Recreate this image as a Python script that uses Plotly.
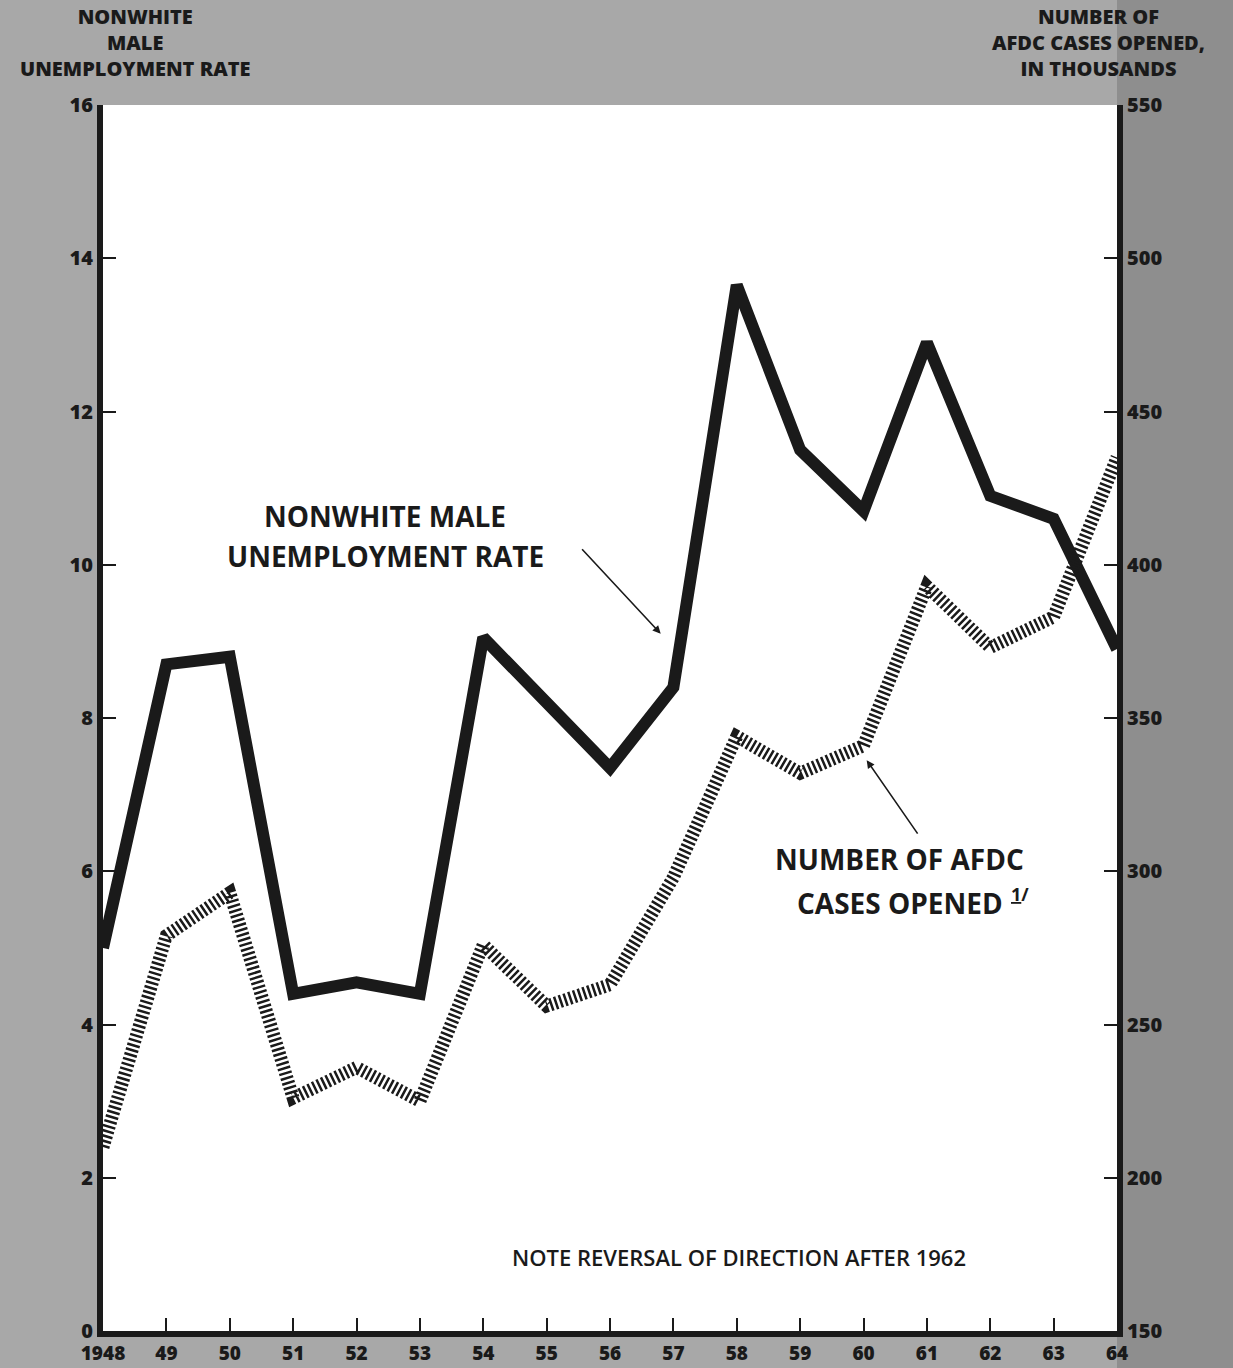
import plotly.graph_objects as go

years = list(range(1948, 1965))
year_labels = ["1948", "49", "50", "51", "52", "53", "54", "55", "56", "57",
               "58", "59", "60", "61", "62", "63", "64"]
unemployment_rate = [5.0, 8.7, 8.8, 4.4, 4.55, 4.4, 9.05, 8.2, 7.35, 8.4,
                     13.65, 11.5, 10.7, 12.9, 10.9, 10.6, 8.9]
afdc_cases = [210, 279, 293, 226, 236, 225, 276, 256, 263, 298,
              344, 332, 341, 393, 373, 383, 435]
left_ticks = [0, 2, 4, 6, 8, 10, 12, 14, 16]
right_ticks = [150, 200, 250, 300, 350, 400, 450, 500, 550]

FONT = "Open Sans"
INK = "#1a1a1a"

fig = go.Figure()
fig.add_trace(go.Scatter(
    x=years, y=afdc_cases, yaxis="y2", mode="lines",
    line=dict(color=INK, width=13, dash="2.5px,2.5px"),
    showlegend=False, hoverinfo="skip"))
fig.add_trace(go.Scatter(
    x=years, y=unemployment_rate, mode="lines",
    line=dict(color=INK, width=12),
    showlegend=False, hoverinfo="skip"))

tickfont = dict(size=20, family=FONT, weight=800, color=INK)
common = dict(showgrid=False, zeroline=False, showline=True, linecolor=INK,
              linewidth=6, ticks="inside", ticklen=13, tickwidth=2,
              tickcolor=INK, automargin=False)
fig.update_layout(
    width=1233, height=1368,
    margin=dict(l=103, r=116, t=105, b=37),
    paper_bgcolor="#a8a8a8",
    plot_bgcolor="white",
    font=dict(family=FONT, color=INK),
    xaxis=dict(range=[1948, 1964], tickvals=years, ticktext=year_labels,
               tickfont=dict(size=19, family=FONT, weight=800, color=INK),
               **common),
    yaxis=dict(range=[0, 16], tickvals=left_ticks, tickfont=tickfont, **common),
    yaxis2=dict(range=[150, 550], tickvals=right_ticks, overlaying="y",
                side="right", tickfont=tickfont, **common),
)

# darker gray on the right margin
fig.add_shape(type="rect", xref="paper", yref="paper", x0=1.0, x1=1.12,
              y0=-0.04, y1=1.1, fillcolor="#8e8e8e", line_width=0, layer="below")

title_font = dict(size=20, family=FONT, weight=800, color=INK)
fig.add_annotation(xref="paper", yref="paper", x=0.0316, y=1.0, yshift=63,
                   xanchor="center", yanchor="middle", showarrow=False,
                   align="center", font=title_font,
                   text="NONWHITE<br>MALE<br>UNEMPLOYMENT RATE")
fig.add_annotation(xref="paper", yref="paper", x=0.982, y=1.0, yshift=63,
                   xanchor="center", yanchor="middle", showarrow=False,
                   align="center", font=title_font,
                   text="NUMBER OF<br>AFDC CASES OPENED,<br>IN THOUSANDS")

label_font = dict(size=28, family=FONT, weight=700, color=INK)
fig.add_annotation(x=1952.45, y=10.64, xref="x", yref="y", showarrow=False,
                   text="NONWHITE MALE", font=label_font)
fig.add_annotation(x=1952.45, y=10.12, xref="x", yref="y", showarrow=False,
                   text="UNEMPLOYMENT RATE", font=label_font)
fig.add_annotation(x=1956.8, y=9.1, xref="x", yref="y", ax=-80, ay=-86,
                   showarrow=True, arrowhead=2, arrowsize=1, arrowwidth=1.6,
                   arrowcolor=INK, text="")
fig.add_annotation(x=1960.57, y=6.16, xref="x", yref="y", showarrow=False,
                   text="NUMBER OF AFDC", font=label_font)
fig.add_annotation(x=1960.57, y=5.59, xref="x", yref="y", showarrow=False,
                   text="CASES OPENED", font=label_font)
fig.add_annotation(x=1962.3, y=5.7, xref="x", yref="y", showarrow=False,
                   xanchor="left", text="<u>1</u>/",
                   font=dict(size=18, family=FONT, weight=700, color=INK))
fig.add_annotation(x=1960.05, y=7.45, xref="x", yref="y", ax=52, ay=75,
                   showarrow=True, arrowhead=2, arrowsize=1, arrowwidth=1.6,
                   arrowcolor=INK, text="")
fig.add_annotation(x=1958.03, y=0.97, xref="x", yref="y", showarrow=False,
                   text="NOTE REVERSAL OF DIRECTION AFTER 1962",
                   font=dict(size=22, family=FONT, weight=600, color=INK))

fig.write_html("out.html", config={"displayModeBar": False},
               post_script="document.body.style.margin='0';")
